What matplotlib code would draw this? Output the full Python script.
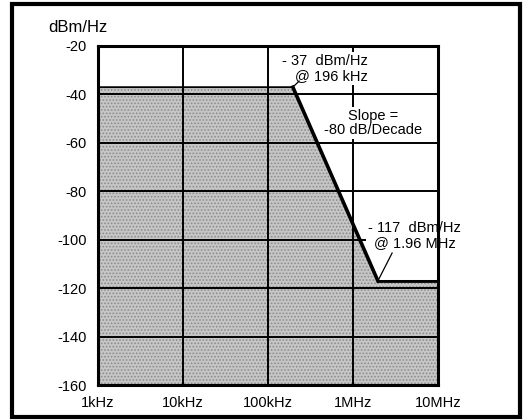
import numpy as np
import matplotlib
matplotlib.use("Agg")
import matplotlib.pyplot as plt
from matplotlib.patches import Rectangle

plt.rcParams['font.family'] = ['Liberation Sans', 'DejaVu Sans']
plt.rcParams['axes.unicode_minus'] = False
plt.rcParams['hatch.color'] = '#8c8c8c'
plt.rcParams['hatch.linewidth'] = 0.8

# PSD mask: flat, -80 dB/decade roll-off, flat floor
freqs = [1e3, 196e3, 1.96e6, 1e7]
psd = [-37, -37, -117, -117]

xticks = [1e3, 1e4, 1e5, 1e6, 1e7]
xticklabels = ["1kHz", "10kHz", "100kHz", "1MHz", "10MHz"]
yticks = [-160, -140, -120, -100, -80, -60, -40, -20]

fig = plt.figure(figsize=(5.24, 4.2), dpi=100)
ax = fig.add_axes([0.187, 0.0833, 0.649, 0.8072])

ax.fill_between(freqs, psd, -160, facecolor='#c6c6c6', hatch='.....',
                edgecolor='#8c8c8c', linewidth=0, zorder=1)

ax.set_xscale("log")
ax.set_xlim(1e3, 1e7)
ax.set_ylim(-160, -20)
ax.set_xticks(xticks)
ax.set_xticklabels(xticklabels)
ax.set_yticks(yticks)
ax.minorticks_off()
ax.tick_params(length=0, labelsize=10.5)
ax.tick_params(axis='y', pad=8)
ax.tick_params(axis='x', pad=8)
ax.grid(True, color='black', linewidth=1.4, zorder=2)
ax.set_axisbelow(False)
for s in ax.spines.values():
    s.set_linewidth(2.2)
    s.set_zorder(7)

# mask outline
ax.plot(freqs, psd, color='black', lw=1.3, zorder=4)
ax.plot(freqs[1:3], psd[1:3], color='black', lw=2.6, zorder=6)
ax.plot(freqs[2:], psd[2:], color='black', lw=2.0, zorder=6)

box = dict(facecolor='white', edgecolor='none', pad=1.5)
kw = dict(fontsize=10.5, va='center', zorder=5, bbox=box, linespacing=1.05)
ax.text(1.5e6, -29.3, "- 37  dBm/Hz\n@ 196 kHz", ha='right',
        multialignment='right', **kw)
ax.text(1.72e6, -51.8, "Slope =\n-80 dB/Decade", ha='center',
        multialignment='center', **kw)
ax.text(5.3e6, -98.3, "- 117  dBm/Hz\n@ 1.96 MHz", ha='center',
        multialignment='center', clip_on=False, **kw)

# leader lines
ax.plot([2.32e5, freqs[1]], [-34.5, psd[1]], color='black', lw=0.9, zorder=6)
ax.plot([2.88e6, freqs[2]], [-105.5, psd[2]], color='black', lw=0.9, zorder=6)

fig.text(0.092, 0.935, "dBm/Hz", fontsize=12, ha='left', va='center')

fig.patches.append(Rectangle((0.023, 0.007), 0.970, 0.983, transform=fig.transFigure,
                             fill=False, edgecolor='black', linewidth=3))

fig.savefig("out.png", dpi=100)
